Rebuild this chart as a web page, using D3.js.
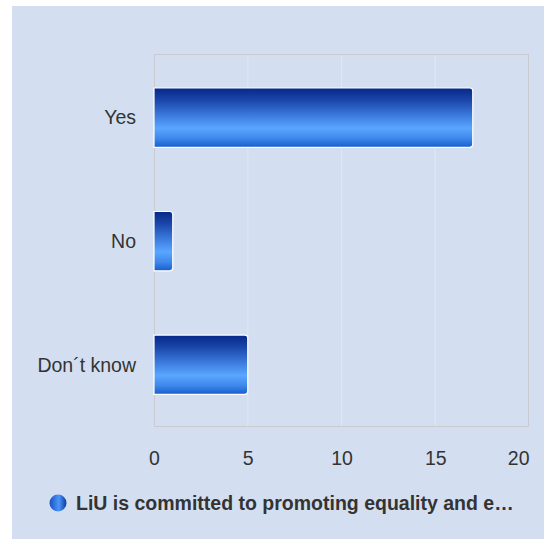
<!DOCTYPE html>
<html>
<head>
<meta charset="utf-8">
<script src="https://cdn.jsdelivr.net/npm/d3@7"></script>
<style>
  html, body { margin: 0; padding: 0; background: #ffffff; }
  svg { display: block; }
</style>
</head>
<body>
<svg id="chart" width="544" height="540"></svg>
<script>
const categories = ["Yes", "No", "Don´t know"];
const values = [17, 1, 5];
const xTicks = [0, 5, 10, 15, 20];
const seriesName = "LiU is committed to promoting equality and e…";

const FONT = "'Liberation Sans', Arial, sans-serif";
const svg = d3.select("#chart");
const W = 544, H = 540;
const plot = { left: 154, top: 54, right: 529, bottom: 427 };

// panel background
svg.append("rect").attr("x", 12).attr("y", 6).attr("width", W - 12).attr("height", 533)
  .attr("fill", "#d3dff0");

const defs = svg.append("defs");
const grad = defs.append("linearGradient").attr("id", "barGrad")
  .attr("x1", 0).attr("y1", 0).attr("x2", 0).attr("y2", 1);
[["0%", "#06278a"], ["20%", "#1a45a8"], ["45%", "#3a78dc"], ["68%", "#5aa6ff"], ["85%", "#3f88ec"], ["100%", "#165ecd"]]
  .forEach(([o, c]) => grad.append("stop").attr("offset", o).attr("stop-color", c));
const gradH = defs.append("linearGradient").attr("id", "dotGrad")
  .attr("x1", 0).attr("y1", 0).attr("x2", 1).attr("y2", 0);
[["0%", "#1a50c0"], ["55%", "#4a96f8"], ["100%", "#0d3a9c"]]
  .forEach(([o, c]) => gradH.append("stop").attr("offset", o).attr("stop-color", c));

const x = d3.scaleLinear().domain([0, 20]).range([plot.left, plot.right]);
const y = d3.scaleBand().domain(categories).range([plot.top, plot.bottom])
  .paddingInner(0.52).paddingOuter(0.27).align(0.51);

// gridlines
svg.append("g").selectAll("line").data(xTicks.slice(1, -1)).join("line")
  .attr("x1", d => x(d)).attr("x2", d => x(d))
  .attr("y1", plot.top).attr("y2", plot.bottom)
  .attr("stroke", "#e4e6ec").attr("stroke-width", 1);

// plot border
svg.append("rect").attr("x", plot.left + 0.5).attr("y", plot.top + 0.5)
  .attr("width", plot.right - plot.left - 1).attr("height", plot.bottom - plot.top - 1)
  .attr("fill", "none").attr("stroke", "#c9cbd0").attr("stroke-width", 1);

// bars with rounded right corners
function barPath(x0, x1, y0, h, r) {
  r = Math.min(r, (x1 - x0) / 2);
  return `M${x0},${y0} H${x1 - r} Q${x1},${y0} ${x1},${y0 + r} V${y0 + h - r} Q${x1},${y0 + h} ${x1 - r},${y0 + h} H${x0} Z`;
}
const data = categories.map((c, i) => ({ c, v: values[i] }));
svg.append("g").selectAll("path").data(data).join("path")
  .attr("d", d => barPath(x(0), x(d.v), y(d.c), y.bandwidth(), 3))
  .attr("fill", "url(#barGrad)")
  .attr("stroke", "#ffffff").attr("stroke-width", 1.2);

// x axis
const xAxis = d3.axisBottom(x).tickValues(xTicks).tickSize(0).tickPadding(0);
const gx = svg.append("g").attr("transform", `translate(0,${plot.bottom})`).call(xAxis);
gx.select(".domain").remove();
gx.selectAll("text").attr("dy", null).attr("y", 38)
  .attr("font-family", FONT).attr("font-size", 19.5).attr("fill", "#333")
  .attr("text-anchor", d => d === 20 ? "end" : "middle")
  .attr("x", 0);

// y axis
const yAxis = d3.axisLeft(y).tickSize(0).tickPadding(0);
const gy = svg.append("g").attr("transform", `translate(${plot.left},0)`).call(yAxis);
gy.select(".domain").remove();
gy.selectAll("text").attr("x", -18).attr("dy", "0.35em")
  .attr("font-family", FONT).attr("font-size", 19.5).attr("fill", "#333");

// legend
const leg = svg.append("g");
leg.append("circle").attr("cx", 58).attr("cy", 503).attr("r", 8.5).attr("fill", "url(#dotGrad)");
leg.append("text").attr("x", 76).attr("y", 510)
  .attr("font-family", FONT).attr("font-size", 19.5)
  .attr("font-weight", "bold").attr("fill", "#333").text(seriesName);
</script>
</body>
</html>
